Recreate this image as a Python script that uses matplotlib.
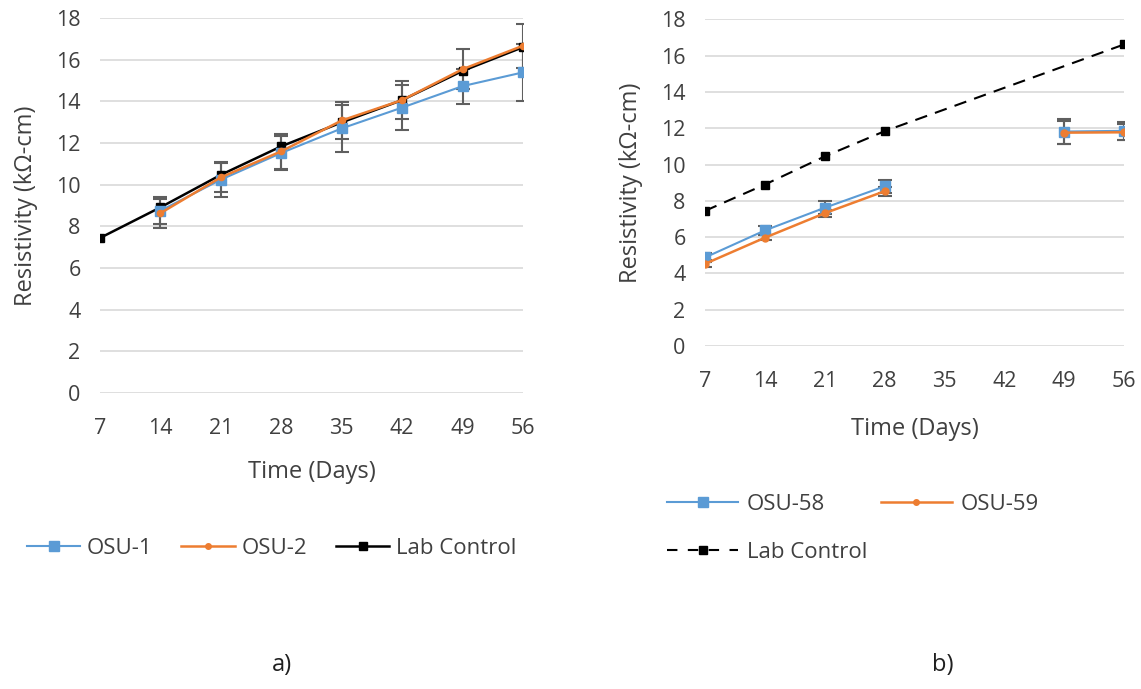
import numpy as np
import matplotlib.pyplot as plt
from matplotlib.lines import Line2D

plt.rcParams['font.family'] = ['Open Sans', 'DejaVu Sans']

days = [7, 14, 21, 28, 35, 42, 49, 56]
ticks = [7, 14, 21, 28, 35, 42, 49, 56]

# panel a
osu1 = [np.nan, 8.75, 10.24, 11.52, 12.70, 13.70, 14.73, 15.39]
osu1_err = [np.nan, 0.65, 0.85, 0.80, 1.12, 1.07, 0.84, 1.38]
osu2 = [np.nan, 8.63, 10.35, 11.60, 13.08, 14.06, 15.54, 16.67]
osu2_err = [np.nan, 0.70, 0.70, 0.85, 0.89, 0.92, 0.97, 1.05]
lab_a = [7.44, 8.91, 10.47, 11.84, 12.99, 14.06, 15.46, 16.60]

# panel b
osu58 = [4.88, 6.37, 7.62, 8.80, np.nan, np.nan, 11.82, 11.86]
osu58_err = [0.25, 0.23, 0.35, 0.37, np.nan, np.nan, 0.70, 0.50]
osu59 = [4.53, 5.97, 7.32, 8.53, np.nan, np.nan, 11.76, 11.78]
osu59_err = [0.20, 0.15, 0.20, 0.25, np.nan, np.nan, 0.65, 0.45]
lab_b_days = [7, 14, 21, 28, 56]
lab_b = [7.45, 8.90, 10.45, 11.84, 16.62]

blue = '#5B9BD5'
orange = '#ED7D31'
ebar = '#5f5f5f'
txt = '#404040'

fig = plt.figure(figsize=(11.41, 6.89), dpi=100)
ax1 = fig.add_axes([0.0876, 0.4296, 0.3708, 0.5443])
ax2 = fig.add_axes([0.6179, 0.4978, 0.3672, 0.4740])


def style(ax):
    ax.set_xlim(7, 56)
    ax.set_ylim(0, 18)
    ax.set_xticks(ticks)
    ax.set_yticks(range(0, 19, 2))
    for s in ax.spines.values():
        s.set_visible(False)
    ax.grid(axis='y', color='#d9d9d9', linewidth=1.2)
    ax.set_axisbelow(True)
    ax.tick_params(length=0, labelsize=15.5, labelcolor=txt)
    ax.tick_params(axis='x', pad=18)
    ax.tick_params(axis='y', pad=14)
    for lab in ax.get_xticklabels() + ax.get_yticklabels():
        lab.set_clip_on(False)
    ax.set_xlabel('Time (Days)', fontsize=17, color=txt, labelpad=15)
    ax.set_ylabel('Resistivity (kΩ-cm)', fontsize=17, color=txt, labelpad=13)


eb = dict(ecolor=ebar, elinewidth=1.5, capsize=5, capthick=1.5)

style(ax1)
ax1.errorbar(days, osu1, yerr=osu1_err, color=blue, marker='s', ms=7,
             lw=1.5, **eb)
ax1.errorbar(days, osu2, yerr=osu2_err, color=orange, marker='o', ms=4.5,
             lw=1.8, **eb)
ax1.plot(days, lab_a, color='black', marker='s', ms=6, lw=1.8)

h_a = [Line2D([], [], color=blue, marker='s', ms=7, lw=1.5),
       Line2D([], [], color=orange, marker='o', ms=4, lw=1.8),
       Line2D([], [], color='black', marker='s', ms=5.5, lw=1.8)]
fig.legend(h_a, ['OSU-1', 'OSU-2', 'Lab Control'], loc='center',
           bbox_to_anchor=(0.238, 1 - 548 / 689), ncol=3, frameon=False,
           fontsize=16, labelcolor=txt, handlelength=2.4, columnspacing=1.3,
           handletextpad=0.3)

style(ax2)
ax2.xaxis.labelpad = 18
ax2.errorbar(days, osu58, yerr=osu58_err, color=blue, marker='s', ms=7,
             lw=1.5, **eb)
ax2.errorbar(days, osu59, yerr=osu59_err, color=orange, marker='o', ms=5,
             lw=1.8, **eb)
ax2.plot(lab_b_days, lab_b, color='black', marker='s', ms=5.5, lw=1.5,
         dashes=(6, 4))

h_b = [Line2D([], [], color=blue, marker='s', ms=7, lw=1.5),
       Line2D([], [], color='black', marker='s', ms=5.5, lw=1.5,
              dashes=(5, 5)),
       Line2D([], [], color=orange, marker='o', ms=4, lw=1.8)]
fig.legend(h_b, ['OSU-58', 'Lab Control', 'OSU-59'], loc='upper left',
           bbox_to_anchor=(647 / 1141, 1 - 474 / 689), ncol=2,
           frameon=False, fontsize=16, labelcolor=txt, handlelength=3.2,
           columnspacing=0.6, handletextpad=0.4, labelspacing=1.2)

fig.text(282 / 1141, 1 - 665 / 689, 'a)', fontsize=17, color='#202020',
         ha='center', va='center')
fig.text(943 / 1141, 1 - 665 / 689, 'b)', fontsize=17, color='#202020',
         ha='center', va='center')

fig.savefig('out.png', dpi=100, facecolor='white')
